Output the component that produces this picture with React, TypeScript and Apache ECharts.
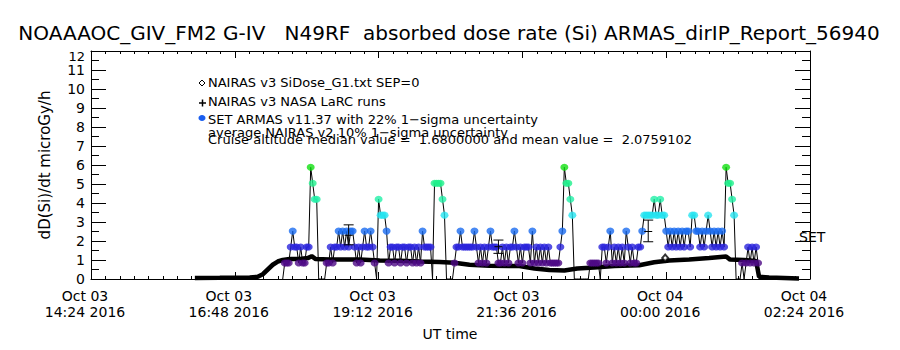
import React, { useEffect, useRef } from "react";
import * as echarts from "echarts";

// ---------- data ----------
const START_UTC = Date.UTC(2016, 9, 3, 14, 24); // Oct 03 2016 14:24 UT
const START_CLOCK = "14:24";
const X_SPAN_MIN = 720;
const X_STEP_MIN = 144;
const Y_MAX = 12;

const titleText =
  "NOAAAOC_GIV_FM2 G-IV   N49RF  absorbed dose rate (Si) ARMAS_dirIP_Report_56940";
const yName = "dD(Si)/dt microGy/h";
const xName = "UT time";
const legendLines = [
  "NAIRAS v3 SiDose_G1.txt SEP=0",
  "NAIRAS v3 NASA LaRC runs",
  "SET ARMAS v11.37 with 22% 1\u2212sigma uncertainty",
  "average NAIRAS v2 10% 1\u2212sigma uncertainty",
  "Cruise altitude median value =  1.6800000 and mean value =  2.0759102",
];
const setLabel = "SET";

// NAIRAS v3 SiDose (diamonds, dense -> thick black curve)
const nairasTimes = [
  "16:08", "16:33", "17:03", "17:11", "17:16", "17:21", "17:26", "17:31", "17:36",
  "17:43", "17:53", "18:01", "18:05", "18:09", "18:23", "18:53", "19:13", "19:33",
  "19:53", "20:13", "20:28", "20:43", "21:03", "21:33", "21:48", "22:03", "22:18",
  "22:31", "22:48", "23:08", "23:33", "23:48", "00:03", "00:23", "00:43", "01:00",
  "01:04", "01:18", "01:30", "01:33", "01:43", "02:13",
];
const nairasValues = [
  0.05, 0.06, 0.08, 0.12, 0.25, 0.5, 0.75, 0.92, 1.0,
  1.05, 1.05, 1.1, 1.2, 1.05, 1.03, 1.02, 0.98, 0.96,
  0.92, 0.9, 0.85, 0.75, 0.7, 0.68, 0.55, 0.47, 0.45,
  0.55, 0.6, 0.68, 0.72, 0.88, 0.97, 1.03, 1.1, 1.18,
  1.02, 1.0, 0.95, 0.12, 0.08, 0.03,
];
const nairasLoneTimes = ["23:59"];
const nairasLoneValues = [1.1];

// NAIRAS v3 NASA LaRC runs with 10% uncertainty bars
const larcTimes = ["18:42", "21:12", "23:42"];
const larcValues = [2.3, 1.7, 2.5];
const larcLow = [1.8, 1.35, 1.96];
const larcHigh = [2.85, 2.05, 3.1];

// SET ARMAS v11.37 (2-minute cadence starting 17:36 UT)
const armasStart = "17:36";
const armasStepMin = 2;
const armasValues = [
  0, 0.84, 0.84, 0.84, 1.68, 2.52, 1.68, 1.68, 0.84, 1.68,
  0.84, 0.84, 1.68, 1.68, 5.88, 5.04, 4.2, 4.2, 0, 0,
  0, 0, 0.84, 0.84, 1.68, 0.84, 1.68, 1.68, 2.52, 1.68,
  2.52, 1.68, 2.52, 1.68, 2.52, 2.52, 1.68, 0.84, 1.68, 0.84,
  1.68, 2.52, 1.68, 1.68, 2.52, 1.68, 0.84, 0, 4.2, 3.36,
  3.36, 3.36, 2.52, 0.84, 1.68, 1.68, 0.84, 1.68, 1.68, 0.84,
  1.68, 1.68, 0.84, 1.68, 1.68, 0.84, 1.68, 0.84, 1.68, 0.84,
  2.52, 1.68, 1.68, 1.68, 1.68, 0, 5.04, 5.04, 5.04, 5.04,
  4.2, 3.36, 0, 0, 0, 0, 0.84, 1.68, 1.68, 2.52,
  1.68, 1.68, 1.68, 1.68, 1.68, 1.68, 2.52, 1.68, 0.84, 1.68,
  0.84, 1.68, 0.84, 1.68, 2.52, 1.68, 1.68, 1.68, 0.84, 0.84,
  1.68, 0.84, 1.68, 0.84, 1.68, 1.68, 2.52, 1.68, 0.84, 1.68,
  0.84, 1.68, 1.68, 1.68, 0.84, 2.52, 0.84, 1.68, 0.84, 1.68,
  0.84, 1.68, 0.84, 1.68, 0.84, 0.84, 0.84, 0.84, 0.84, 1.68,
  2.52, 5.88, 5.04, 5.04, 4.2, 3.36, 0, 0, 0, 0,
  0, 0, 0, 0, 0.84, 0.84, 0.84, 0.84, 0.84, 0,
  1.68, 1.68, 0.84, 1.68, 2.52, 0.84, 1.68, 0.84, 1.68, 0.84,
  1.68, 0.84, 2.52, 1.68, 0.84, 1.68, 0.84, 0.84, 1.68, 1.68,
  2.52, 3.36, 3.36, 3.36, 3.36, 3.36, 4.2, 3.36, 3.36, 4.2,
  3.36, 3.36, 2.52, 1.68, 2.52, 1.68, 2.52, 1.68, 2.52, 1.68,
  2.52, 1.68, 2.52, 2.52, 1.68, 3.36, 3.36, 2.52, 2.52, 1.68,
  2.52, 1.68, 2.52, 3.36, 2.52, 1.68, 2.52, 1.68, 2.52, 1.68,
  2.52, 1.68, 5.88, 5.04, 5.04, 4.2, 3.36, 0, 0, 0,
  0.84, 0, 0.84, 1.68, 0.84, 1.68, 0.84, 1.68, 0.84, 0,
];
const armasLevels = [0.84, 1.68, 2.52, 3.36, 4.2, 5.04, 5.88];
const armasColors = ["#4e0a86", "#2a24dc", "#1a6cf0", "#24e4f0", "#22f0a8", "#20f08c", "#12e012"];

// ---------- helpers ----------
const FONT = "DejaVu Sans";
const MONTHS = ["Jan", "Feb", "Mar", "Apr", "May", "Jun", "Jul", "Aug", "Sep", "Oct", "Nov", "Dec"];
const pad = (n: number) => (n < 10 ? "0" + n : "" + n);

function clockToMin(s: string): number {
  const [h, m] = s.split(":").map(Number);
  const [h0, m0] = START_CLOCK.split(":").map(Number);
  let d = h * 60 + m - (h0 * 60 + m0);
  if (d < 0) d += 1440;
  return d;
}

function fmtX(v: number): string {
  const d = new Date(START_UTC + v * 60000);
  return `${MONTHS[d.getUTCMonth()]} ${pad(d.getUTCDate())}\n${pad(d.getUTCHours())}:${pad(
    d.getUTCMinutes()
  )} ${d.getUTCFullYear()}`;
}

function levelColor(v: number): string {
  let best = 0;
  for (let i = 1; i < armasLevels.length; i++) {
    if (Math.abs(armasLevels[i] - v) < Math.abs(armasLevels[best] - v)) best = i;
  }
  return armasColors[best];
}

export default function App() {
  const ref = useRef<HTMLDivElement>(null);

  useEffect(() => {
    document.body.style.margin = "0";
    if (!ref.current) return;
    const chart = echarts.init(ref.current, undefined, { renderer: "svg" });

    const nairasData = nairasTimes.map((t, i) => [clockToMin(t), nairasValues[i]]);
    const loneData = nairasLoneTimes.map((t, i) => [clockToMin(t), nairasLoneValues[i]]);
    const armasT0 = clockToMin(armasStart);
    const armasData = armasValues.map((v, i) => [armasT0 + i * armasStepMin, v]);
    const armasDots = armasData.filter((d) => d[1] > 0);
    const larcData = larcTimes.map((t, i) => [clockToMin(t), larcValues[i], larcLow[i], larcHigh[i]]);

    const black = "#000";
    const xCommon = {
      type: "value",
      min: 0,
      max: X_SPAN_MIN,
      interval: X_STEP_MIN,
      axisLine: { show: true, onZero: false, lineStyle: { color: black, width: 1 } },
      axisTick: { show: true, inside: true, length: 7, lineStyle: { color: black } },
      minorTick: { show: true, splitNumber: 10, length: 3, lineStyle: { color: black } },
      splitLine: { show: false },
      minorSplitLine: { show: false },
    };
    const yCommon = {
      type: "value",
      min: 0,
      max: Y_MAX,
      interval: 1,
      axisLine: { show: true, onZero: false, lineStyle: { color: black, width: 1 } },
      axisTick: { show: true, inside: true, length: 15, lineStyle: { color: black } },
      minorTick: { show: true, splitNumber: 2, length: 8, lineStyle: { color: black } },
      splitLine: { show: false },
      minorSplitLine: { show: false },
    };

    const txt = (text: string, x: number, y: number, size: number, align = "left", extra: any = {}) => ({
      type: "text",
      x,
      y,
      silent: true,
      ...extra,
      style: {
        text,
        fill: black,
        font: `${size}px "${FONT}"`,
        textAlign: align,
        textVerticalAlign: "middle",
      },
    });

    chart.setOption({
      animation: false,
      backgroundColor: "#fff",
      grid: { left: 91, right: 90, top: 51, bottom: 71, containLabel: false },
      xAxis: [
        {
          ...xCommon,
          position: "bottom",
          axisLabel: {
            show: true,
            formatter: fmtX,
            color: black,
            fontFamily: FONT,
            fontSize: 14,
            lineHeight: 16,
            margin: 9,
            padding: [0, 12, 0, 0],
            showMinLabel: true,
            showMaxLabel: true,
          },
        },
        { ...xCommon, position: "top", axisLabel: { show: false } },
      ],
      yAxis: [
        {
          ...yCommon,
          position: "left",
          axisLabel: {
            show: true,
            color: black,
            fontFamily: FONT,
            fontSize: 14,
            margin: 6,
            padding: [4, 0, 0, 0],
            showMaxLabel: false,
          },
        },
        { ...yCommon, position: "right", axisLabel: { show: false } },
      ],
      series: [
        {
          name: "ARMAS line",
          type: "line",
          data: armasData,
          showSymbol: false,
          lineStyle: { color: black, width: 1 },
          z: 2,
        },
        {
          name: "NAIRAS",
          type: "line",
          data: nairasData,
          showSymbol: false,
          lineStyle: { color: black, width: 4.5 },
          z: 3,
        },
        {
          name: "NAIRAS point",
          type: "scatter",
          data: loneData,
          symbol: "emptyDiamond",
          symbolSize: [6, 7],
          itemStyle: { color: black, borderColor: black, borderWidth: 1 },
          z: 3,
        },
        {
          name: "ARMAS",
          type: "scatter",
          data: armasDots,
          symbol: "circle",
          symbolSize: [8, 7],
          itemStyle: { color: (p: any) => levelColor(p.value[1]) },
          z: 4,
        },
        {
          name: "LaRC",
          type: "custom",
          data: larcData,
          encode: { x: 0, y: [1, 2, 3] },
          z: 5,
          renderItem: (_params: any, api: any) => {
            const pc = api.coord([api.value(0), api.value(1)]);
            const pl = api.coord([api.value(0), api.value(2)]);
            const ph = api.coord([api.value(0), api.value(3)]);
            const st = { stroke: black, lineWidth: 1, fill: null };
            const cap = 5;
            return {
              type: "group",
              children: [
                { type: "line", shape: { x1: pc[0], y1: ph[1], x2: pc[0], y2: pl[1] }, style: st },
                { type: "line", shape: { x1: pc[0] - cap, y1: ph[1], x2: pc[0] + cap, y2: ph[1] }, style: st },
                { type: "line", shape: { x1: pc[0] - cap, y1: pl[1], x2: pc[0] + cap, y2: pl[1] }, style: st },
                { type: "line", shape: { x1: pc[0] - 4, y1: pc[1], x2: pc[0] + 4, y2: pc[1] }, style: st },
              ],
            };
          },
        },
      ],
      graphic: [
        txt(titleText, 449, 33, 20, "center"),
        txt(String(Y_MAX), 85, 56, 13, "right"),
        txt(yName, 45, 165, 15, "center", { rotation: Math.PI / 2 }),
        txt(xName, 450, 334, 14, "center"),
        txt(setLabel, 799, 237, 14, "left"),
        // legend symbols
        {
          type: "polygon",
          silent: true,
          shape: { points: [[202, 80], [205, 83], [202, 86], [199, 83]] },
          style: { fill: "#fff", stroke: black, lineWidth: 1 },
        },
        { type: "line", silent: true, shape: { x1: 199, y1: 103, x2: 206, y2: 103 }, style: { stroke: black, lineWidth: 1.5 } },
        { type: "line", silent: true, shape: { x1: 202.5, y1: 99.5, x2: 202.5, y2: 106.5 }, style: { stroke: black, lineWidth: 1.5 } },
        { type: "ellipse", silent: true, shape: { cx: 202, cy: 118, rx: 3.5, ry: 3 }, style: { fill: "#1a5ef0" } },
        txt(legendLines[0], 208, 82, 13),
        txt(legendLines[1], 208, 101, 13),
        txt(legendLines[2], 208, 119, 13),
        txt(legendLines[3], 208, 132, 13),
        txt(legendLines[4], 208, 139, 13),
      ],
    });

    return () => chart.dispose();
  }, []);

  return <div ref={ref} style={{ width: 900, height: 350 }} />;
}
